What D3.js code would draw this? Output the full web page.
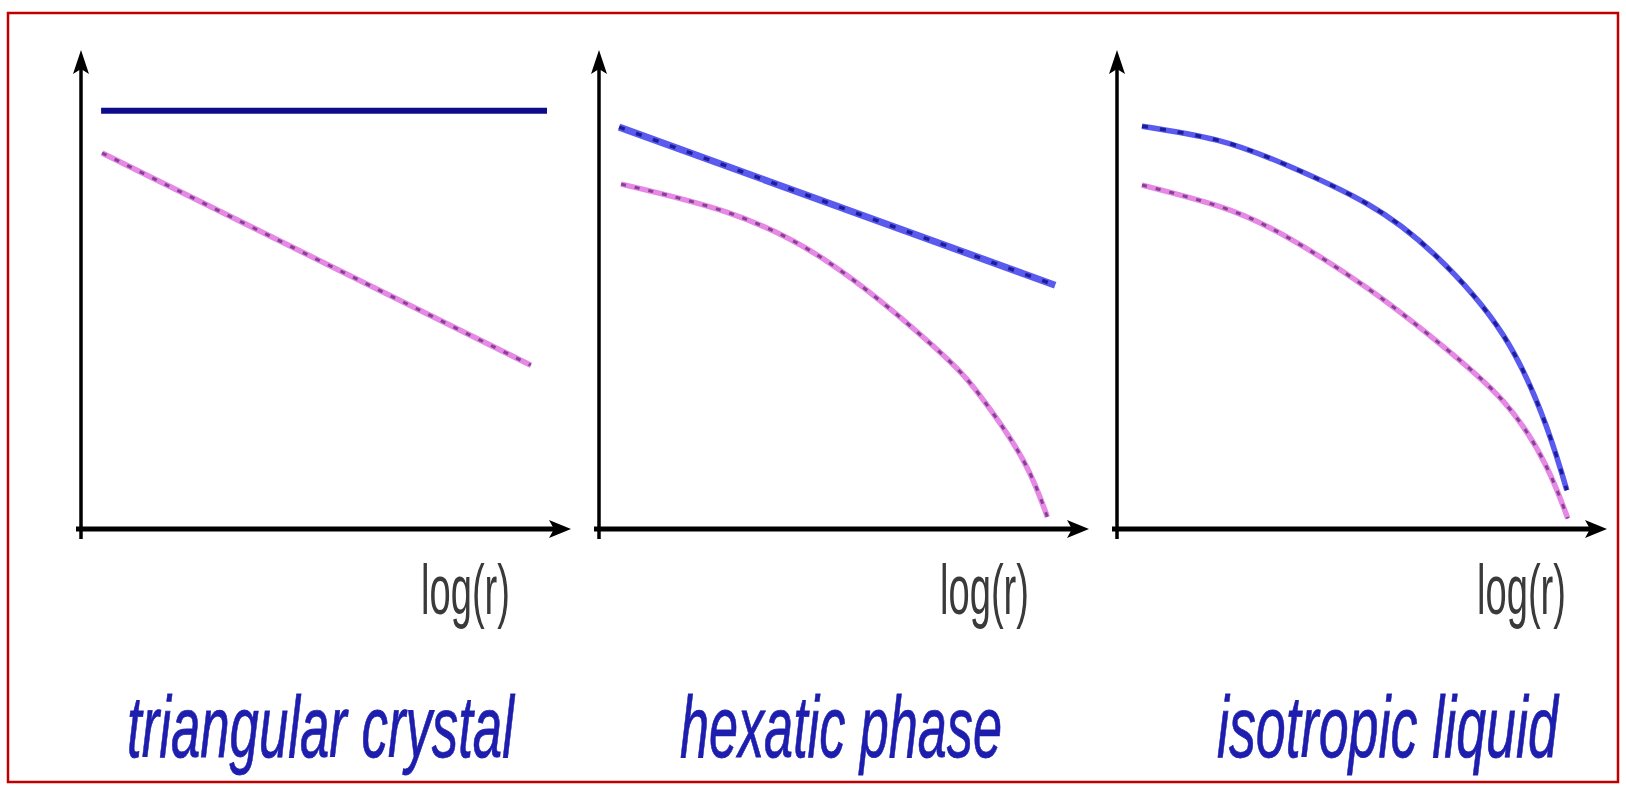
<!DOCTYPE html>
<html>
<head>
<meta charset="utf-8">
<script src="https://cdn.jsdelivr.net/npm/d3@7"></script>
<style>
  body { margin: 0; background: #fff; }
  svg { display: block; }
</style>
</head>
<body>
<svg id="canvas"></svg>
<script>
// values, x = log(r), y = correlation (arbitrary units 0..10)
let phases = ["triangular crystal", "hexatic phase", "isotropic liquid"];
let axisLabel = "log(r)";

let crystalOrientX = [0.41, 9.51];
let crystalOrientY = [8.73, 8.73];
let crystalTransX = [0.43, 9.18];
let crystalTransY = [7.85, 3.42];

let hexaticOrientX = [0.41, 9.31];
let hexaticOrientY = [8.39, 5.09];
let hexaticTransX = [0.45, 2.59, 4.71, 6.82, 7.78, 8.65, 9.15];
let hexaticTransY = [7.20, 6.62, 5.55, 3.82, 2.78, 1.45, 0.25];

let liquidOrientX = [0.51, 2.04, 3.41, 5.12, 6.49, 7.88, 8.76, 9.18];
let liquidOrientY = [8.41, 8.12, 7.62, 6.78, 5.72, 4.05, 2.15, 0.81];
let liquidTransX = [0.51, 2.04, 3.41, 5.12, 6.49, 7.88, 8.76, 9.20];
let liquidTransY = [7.18, 6.75, 6.13, 5.02, 3.95, 2.67, 1.31, 0.22];

let width = 1626;
let height = 788;

let zip = (xs, ys) => xs.map((x, i) => [x, ys[i]]);

// layout of the three panels
let panels = [
  { x0: 81,   label: 340, title: 127, titleW: 387, orient: zip(crystalOrientX, crystalOrientY), trans: zip(crystalTransX, crystalTransY), solid: true },
  { x0: 599,  label: 341, title: 680, titleW: 322, orient: zip(hexaticOrientX, hexaticOrientY), trans: zip(hexaticTransX, hexaticTransY), solid: false },
  { x0: 1117, label: 360, title: 1217, titleW: 341, orient: zip(liquidOrientX, liquidOrientY), trans: zip(liquidTransX, liquidTransY), solid: false }
];
let axisY = 529;
let axisTop = 50;
let axisLen = 490;

let canvas = d3.select("#canvas")
  .attr("width", width)
  .attr("height", height);

canvas.append("rect")
  .attr("x", 8).attr("y", 13)
  .attr("width", 1610).attr("height", 769)
  .attr("fill", "none")
  .attr("stroke", "#c00000")
  .attr("stroke-width", 2.5);

// squeeze a text horizontally so it fits the width seen in the picture
function squeeze(sel, x, y, w) {
  let natural = sel.node().getComputedTextLength();
  sel.attr("transform", "translate(" + x + "," + y + ") scale(" + (w / natural) + ",1)");
}

panels.forEach((p, i) => {
  let x = d3.scaleLinear().domain([0, 10]).range([p.x0, p.x0 + axisLen]);
  let y = d3.scaleLinear().domain([0, 10]).range([axisY, axisTop]);
  let g = canvas.append("g");

  // axes
  g.append("line")
    .attr("x1", p.x0).attr("x2", p.x0)
    .attr("y1", axisY + 10).attr("y2", axisTop + 12)
    .attr("stroke", "#000").attr("stroke-width", 3.5);
  g.append("line")
    .attr("x1", p.x0 - 5).attr("x2", p.x0 + axisLen - 10)
    .attr("y1", axisY).attr("y2", axisY)
    .attr("stroke", "#000").attr("stroke-width", 5);

  // arrow heads
  g.append("path")
    .attr("d", "M0,0 L-8,24 L0,19 L8,24 Z")
    .attr("transform", "translate(" + p.x0 + "," + axisTop + ")")
    .attr("fill", "#000");
  g.append("path")
    .attr("d", "M0,0 L-22,-9 L-17,0 L-22,9 Z")
    .attr("transform", "translate(" + (p.x0 + axisLen) + "," + axisY + ")")
    .attr("fill", "#000");

  let line = d3.line()
    .x(d => x(d[0]))
    .y(d => y(d[1]))
    .curve(d3.curveNatural);

  // translational (pink)
  g.append("path").attr("d", line(p.trans))
    .attr("fill", "none").attr("stroke", "#e589e5").attr("stroke-width", 5.5);
  g.append("path").attr("d", line(p.trans))
    .attr("fill", "none").attr("stroke", "#6e2e80").attr("stroke-width", 3)
    .attr("stroke-dasharray", "5,9").attr("opacity", 0.8);

  // orientational (blue)
  if (p.solid) {
    g.append("path").attr("d", line(p.orient))
      .attr("fill", "none").attr("stroke", "#0c0c8c").attr("stroke-width", 6);
  } else {
    g.append("path").attr("d", line(p.orient))
      .attr("fill", "none").attr("stroke", "#5a5aee").attr("stroke-width", i == 1 ? 7 : 5.5);
    g.append("path").attr("d", line(p.orient))
      .attr("fill", "none").attr("stroke", "#12128e").attr("stroke-width", 3.5)
      .attr("stroke-dasharray", "6,12").attr("opacity", 0.85);
  }

  // x-axis label
  let lab = g.append("text")
    .attr("font-family", "Liberation Sans, Arial, sans-serif")
    .attr("font-size", 70)
    .attr("fill", "#3a3a3a")
    .text(axisLabel);
  squeeze(lab, p.x0 + p.label, 614, 89);

  // phase title
  let ttl = g.append("text")
    .attr("font-family", "Liberation Sans, Arial, sans-serif")
    .attr("font-style", "italic")
    .attr("font-size", 88)
    .attr("fill", "#1d1dae")
    .attr("stroke", "#1d1dae")
    .attr("stroke-width", 0.8)
    .text(phases[i]);
  squeeze(ttl, p.title, 757, p.titleW);
});
</script>
</body>
</html>
